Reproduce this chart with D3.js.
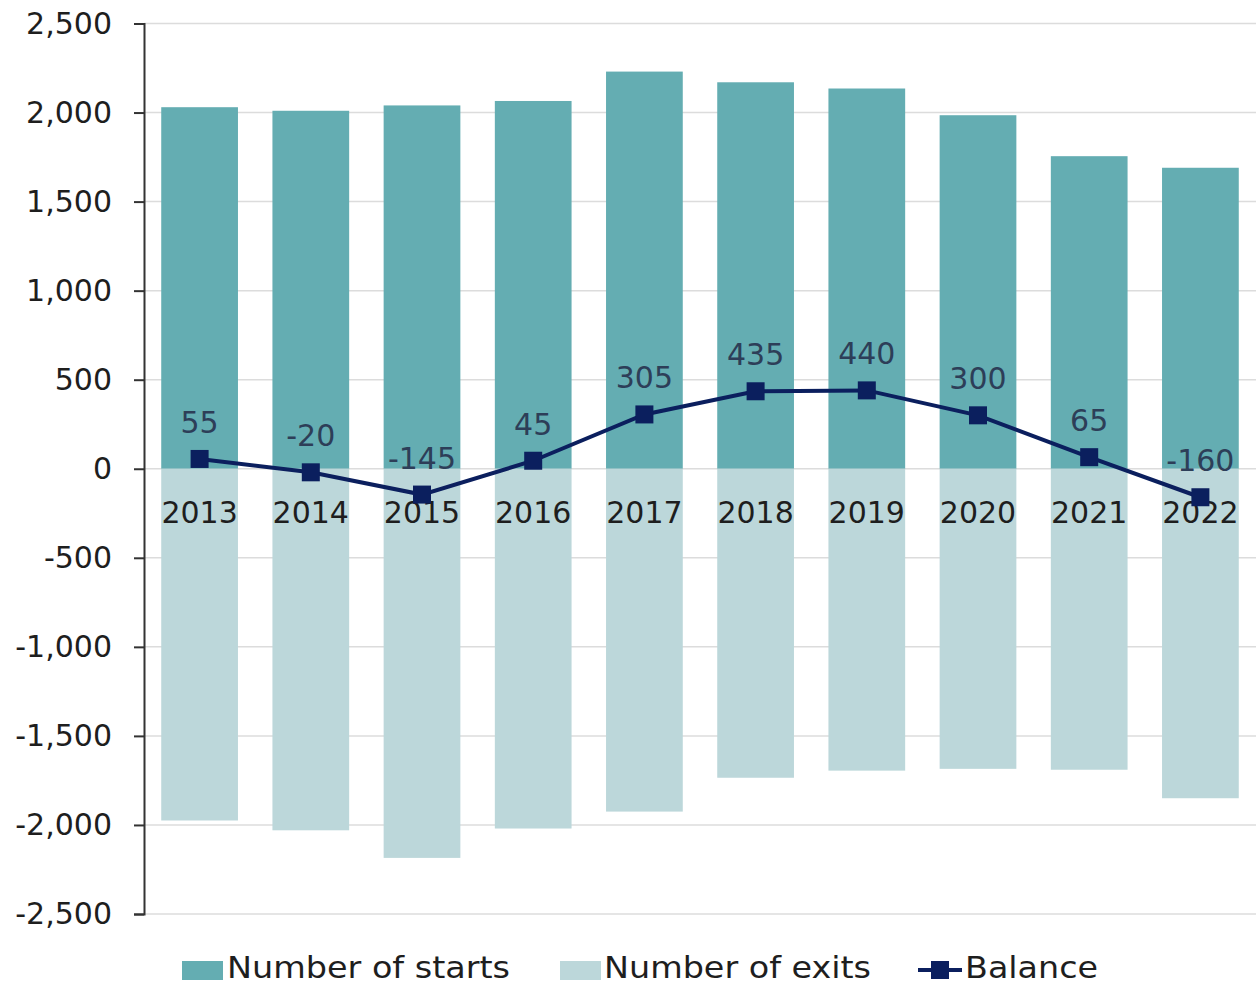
<!DOCTYPE html>
<html>
<head>
<meta charset="utf-8">
<script src="https://cdn.jsdelivr.net/npm/d3@7"></script>
<style>
  html, body { margin: 0; padding: 0; background: #fff; }
  svg { display: block; font-family: "DejaVu Sans", sans-serif; }
</style>
</head>
<body>
<svg id="chart" width="1256" height="985"></svg>
<script>
// Yearly company starts, exits and the resulting balance
const years = ["2013", "2014", "2015", "2016", "2017", "2018", "2019", "2020", "2021", "2022"];
const starts = [2030, 2010, 2040, 2065, 2230, 2170, 2135, 1985, 1755, 1690];
const exits = [1975, 2030, 2185, 2020, 1925, 1735, 1695, 1685, 1690, 1850];
const balance = [55, -20, -145, 45, 305, 435, 440, 300, 65, -160];
const yTicks = [2500, 2000, 1500, 1000, 500, 0, -500, -1000, -1500, -2000, -2500];
const seriesNames = ["Number of starts", "Number of exits", "Balance"];

const colStarts = "#64adb2";
const colExits = "#bcd7da";
const colBalance = "#0b1f5e";
const colLabel = "#2d3e58";

const svg = d3.select("#chart");
const plotLeft = 144, plotRight = 1256, plotTop = 23.5, plotBottom = 914;

const x = d3.scaleBand().domain(years).range([plotLeft, plotRight]).paddingInner(0.31).paddingOuter(0.155);
const y = d3.scaleLinear().domain([-2500, 2500]).range([plotBottom, plotTop]);

// gridlines
svg.append("g").selectAll("line").data(yTicks).join("line")
  .attr("x1", plotLeft).attr("x2", plotRight)
  .attr("y1", d => y(d)).attr("y2", d => y(d))
  .attr("stroke", "#dcdcdc").attr("stroke-width", 1.5);

// starts (positive) bars
svg.append("g").selectAll("rect").data(years).join("rect")
  .attr("x", d => x(d)).attr("width", x.bandwidth())
  .attr("y", (d, i) => y(starts[i]))
  .attr("height", (d, i) => y(0) - y(starts[i]))
  .attr("fill", colStarts);

// exits (negative) bars
svg.append("g").selectAll("rect").data(years).join("rect")
  .attr("x", d => x(d)).attr("width", x.bandwidth())
  .attr("y", y(0))
  .attr("height", (d, i) => y(-exits[i]) - y(0))
  .attr("fill", colExits);

// y axis with plain hyphen minus signs
const fmt = d3.format(",d");
const yAxis = d3.axisLeft(y).tickValues(yTicks).tickSize(10).tickPadding(22)
  .tickFormat(d => fmt(d).replace("\u2212", "-"));
const ga = svg.append("g").attr("transform", `translate(${plotLeft},0)`).call(yAxis);
ga.select(".domain").attr("stroke", "#333").attr("stroke-width", 2);
ga.selectAll(".tick line").attr("stroke", "#333").attr("stroke-width", 2);
ga.selectAll(".tick text").attr("font-size", 30).attr("fill", "#1e1e1e")
  .attr("font-family", "DejaVu Sans, sans-serif");

// year labels just below zero line
svg.append("g").selectAll("text").data(years).join("text")
  .attr("x", d => x(d) + x.bandwidth() / 2)
  .attr("y", y(0) + 54)
  .attr("text-anchor", "middle")
  .attr("font-size", 30).attr("fill", "#1e1e1e")
  .text(d => d);

// balance line
const cx = d => x(d) + x.bandwidth() / 2;
const line = d3.line().x((d, i) => cx(years[i])).y(d => y(d));
svg.append("path").datum(balance)
  .attr("d", line).attr("fill", "none")
  .attr("stroke", colBalance).attr("stroke-width", 4);

const ms = 18;
svg.append("g").selectAll("rect").data(balance).join("rect")
  .attr("x", (d, i) => cx(years[i]) - ms / 2)
  .attr("y", d => y(d) - ms / 2)
  .attr("width", ms).attr("height", ms)
  .attr("fill", colBalance);

// balance value labels
svg.append("g").selectAll("text").data(balance).join("text")
  .attr("x", (d, i) => cx(years[i]))
  .attr("y", d => y(d) - 26)
  .attr("text-anchor", "middle")
  .attr("font-size", 30).attr("fill", colLabel)
  .text(d => d);

// legend
const lg = svg.append("g");
const ly = 970;
const lb = 978;
lg.append("rect").attr("x", 182).attr("y", ly - 9).attr("width", 41).attr("height", 19).attr("fill", colStarts);
lg.append("text").attr("x", 227).attr("y", lb).attr("font-size", 30).attr("fill", "#1e1e1e")
  .attr("textLength", 283).attr("lengthAdjust", "spacingAndGlyphs").text(seriesNames[0]);
lg.append("rect").attr("x", 560).attr("y", ly - 9).attr("width", 41).attr("height", 19).attr("fill", colExits);
lg.append("text").attr("x", 604).attr("y", lb).attr("font-size", 30).attr("fill", "#1e1e1e")
  .attr("textLength", 267).attr("lengthAdjust", "spacingAndGlyphs").text(seriesNames[1]);
lg.append("line").attr("x1", 918).attr("x2", 962).attr("y1", ly).attr("y2", ly)
  .attr("stroke", colBalance).attr("stroke-width", 4);
lg.append("rect").attr("x", 940 - 9).attr("y", ly - 9).attr("width", 18).attr("height", 18).attr("fill", colBalance);
lg.append("text").attr("x", 965).attr("y", lb).attr("font-size", 30).attr("fill", "#1e1e1e")
  .attr("textLength", 133).attr("lengthAdjust", "spacingAndGlyphs").text(seriesNames[2]);
</script>
</body>
</html>
